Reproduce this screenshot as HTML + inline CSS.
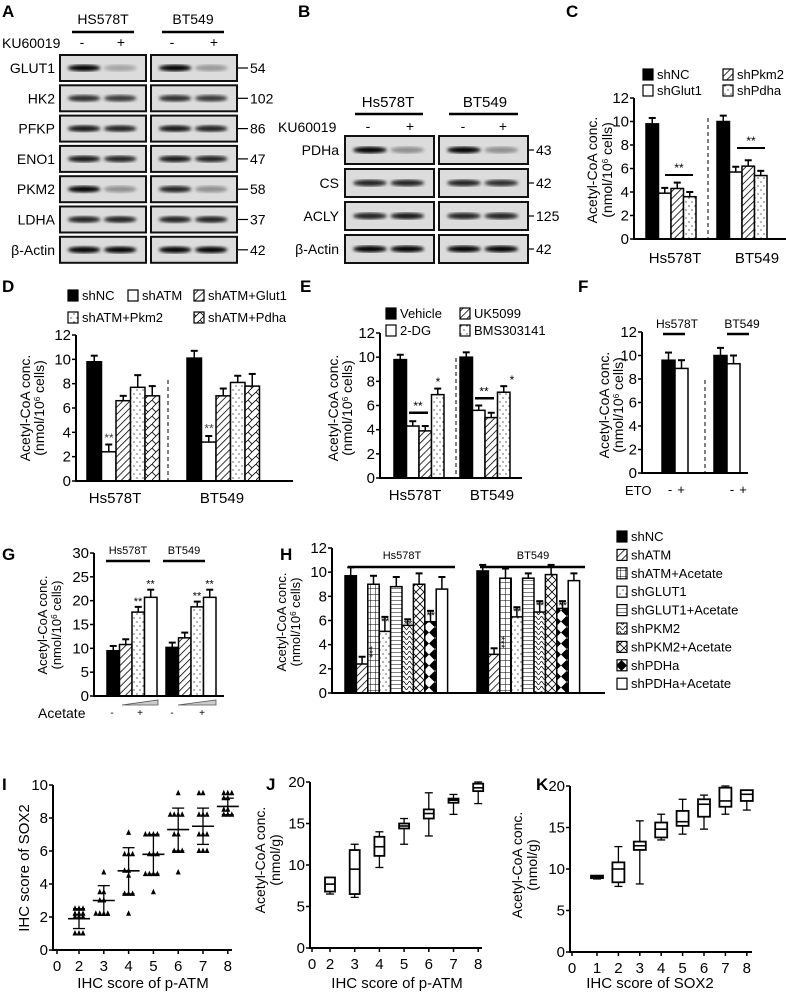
<!DOCTYPE html>
<html><head><meta charset="utf-8"><style>
body{margin:0;background:#fff}
svg{display:block;font-family:"Liberation Sans",sans-serif}
</style></head><body>
<svg id="fig" width="786" height="992" viewBox="0 0 786 992" xmlns="http://www.w3.org/2000/svg">
<defs>
<filter id="blur"><feGaussianBlur stdDeviation="1.6"/></filter>
<pattern id="p-hatch" width="5" height="5" patternUnits="userSpaceOnUse" patternTransform="rotate(45)"><rect width="5" height="5" fill="#fff"/><line x1="0" y1="0" x2="0" y2="5" stroke="#000" stroke-width="1.6"/></pattern>
<pattern id="p-dots" width="6" height="8" patternUnits="userSpaceOnUse"><rect width="6" height="8" fill="#fff"/><circle cx="2" cy="2" r="0.6" fill="#000"/><circle cx="5" cy="6" r="0.6" fill="#000"/></pattern>
<pattern id="p-zig" width="8" height="8" patternUnits="userSpaceOnUse"><rect width="8" height="8" fill="#fff"/><path d="M0 8L8 0M0 0L4 4" stroke="#000" stroke-width="0.8"/></pattern>
<pattern id="p-vgrid" width="5" height="6" patternUnits="userSpaceOnUse"><rect width="5" height="6" fill="#fff"/><path d="M0 0V6M0 0H5" stroke="#000" stroke-width="1"/></pattern>
<pattern id="p-hlines" width="5" height="4" patternUnits="userSpaceOnUse"><rect width="5" height="4" fill="#fff"/><path d="M0 0H5" stroke="#000" stroke-width="1"/></pattern>
<pattern id="p-wave" width="6" height="5" patternUnits="userSpaceOnUse"><rect width="6" height="5" fill="#fff"/><path d="M0 3Q1.5 0 3 3T6 3" fill="none" stroke="#000" stroke-width="0.8"/></pattern>
<pattern id="p-cross" width="8" height="8" patternUnits="userSpaceOnUse"><rect width="8" height="8" fill="#fff"/><path d="M0 0L8 8M8 0L0 8" stroke="#000" stroke-width="0.8"/></pattern>
<pattern id="p-diam" width="11" height="11" patternUnits="userSpaceOnUse"><rect width="11" height="11" fill="#fff"/><path d="M5.5 0L11 5.5L5.5 11L0 5.5Z" fill="#000"/></pattern>
</defs>
<g id="root"></g>
</svg>
<script>
// ---------- DATA ----------
const blotRowsA = ["GLUT1","HK2","PFKP","ENO1","PKM2","LDHA","β-Actin"];
const blotMwA = ["54","102","86","47","58","37","42"];
const blotIntA = [[1,0.25,1,0.3],[0.8,0.75,0.8,0.75],[0.9,0.85,0.9,0.85],[0.9,0.85,0.9,0.85],[1,0.35,0.85,0.35],[0.85,0.85,0.85,0.85],[1,1,1,1]];
const blotRowsB = ["PDHa","CS","ACLY","β-Actin"];
const blotMwB = ["43","42","125","42"];
const blotIntB = [[1,0.35,1,0.35],[0.85,0.85,0.85,0.8],[0.85,0.9,0.85,0.85],[1,1,1,1]];

const cLabels = ["shNC","shGlut1","shPkm2","shPdha"];
const cHs = [9.8,3.9,4.3,3.6];
const cBt = [10.0,5.7,6.2,5.4];
const cErr = [0.5,0.45,0.5,0.4];

const dLabels = ["shNC","shATM","shATM+Glut1","shATM+Pkm2","shATM+Pdha"];
const dHs = [9.8,2.4,6.6,7.7,7.0];
const dBt = [10.1,3.2,7.0,8.1,7.8];
const dErrHs = [0.5,0.6,0.4,1.0,0.8];
const dErrBt = [0.6,0.5,0.6,0.55,1.0];

const eLabels = ["Vehicle","2-DG","UK5099","BMS303141"];
const eHs = [9.8,4.3,3.9,6.9];
const eBt = [10.0,5.6,5.0,7.1];
const eErr = [0.4,0.4,0.4,0.5];

const fHs = [9.6,8.9];
const fBt = [10.0,9.3];
const fErr = [0.65,0.7];

const gHs = [9.5,10.8,17.6,20.7];
const gBt = [10.2,12.2,18.7,20.7];
const gErr = [1.0,1.1,1.1,1.6];

const hLabels = ["shNC","shATM","shATM+Acetate","shGLUT1","shGLUT1+Acetate","shPKM2","shPKM2+Acetate","shPDHa","shPDHa+Acetate"];
const hHs = [9.7,2.4,9.0,5.1,8.8,5.6,9.0,5.9,8.6];
const hBt = [10.1,3.2,9.5,6.3,9.5,6.7,9.8,7.0,9.3];
const hErrHs = [0.7,0.6,0.7,1.2,0.8,0.5,0.9,0.9,1.0];
const hErrBt = [0.5,0.5,0.8,0.8,0.4,0.9,0.8,0.6,0.6];

const iCats = [2,3,4,5,6,7,8];
const iMeans = [1.9,3.0,4.8,5.8,7.3,7.5,8.7];
const iSd = [0.6,0.9,1.4,1.2,1.3,1.1,0.5];
const iPts = [[1,1,1,2,2,2,2.2,2.2,2.2,2.5,2.5,2.5],[2.2,2.2,2.2,2.2,3,3,3.5,3.5,4.7],[2.2,3.4,3.4,3.4,4.5,4.8,4.8,5.8,5.8,5.8,7.1],[3.5,4.6,4.6,4.6,4.6,5.8,5.8,5.8,7,7,7,7],[4.7,6,6,6,7,7,8.2,8.2,8.2,8.2,9.5],[6,6,6,7,7,7,8.2,8.2,8.2,9.5,9.5],[8.2,8.2,8.2,8.5,8.5,9.2,9.2,9.5,9.5,9.5]];

const jCats = [2,3,4,5,6,7,8];
const jMin = [6.5,6.1,9.7,12.5,13.5,16.1,17.4];
const jQ1 = [6.8,6.5,11.1,14.4,15.6,17.5,18.9];
const jMed = [7.7,9.5,12.2,14.7,16.2,17.8,19.3];
const jQ3 = [8.5,11.8,13.4,15.0,16.7,18.0,19.8];
const jMax = [8.5,12.5,14.0,15.6,18.7,18.5,20.0];

const kCats = [1,2,3,4,5,6,7,8];
const kMin = [8.8,7.9,8.2,13.5,14.2,14.8,16.6,17.1];
const kQ1 = [8.9,8.4,12.3,13.8,15.2,16.3,17.5,18.2];
const kMed = [9.0,10.0,12.8,14.8,15.7,17.8,18.2,19.0];
const kQ3 = [9.2,10.8,13.3,15.6,17.0,18.4,19.8,19.5];
const kMax = [9.2,12.7,15.8,16.6,18.4,18.9,20.0,19.5];

// ---------- HELPERS ----------
const NS = "http://www.w3.org/2000/svg";
const root = document.getElementById("root");
function mk(tag, attrs, parent){
  const e = document.createElementNS(NS, tag);
  for (const k in attrs) e.setAttribute(k, attrs[k]);
  (parent||root).appendChild(e);
  return e;
}
function txt(x,y,s,size,anchor,parent,extra){
  const t = mk("text", Object.assign({x:x,y:y,"font-size":size||13,"text-anchor":anchor||"start",fill:"#000"}, extra||{}), parent);
  t.textContent = s;
  return t;
}
function grp(name){
  const g = mk("g",{});
  
  
  return g;
}
function panelLabel(ch,x,y){
  const t = txt(x,y,ch,17,"start",root,{"font-weight":"bold"});
  
  
}
const SUP = "(nmol/10<tspan baseline-shift='super' font-size='8'>6</tspan> cells)";
function yTitle(g,xs,yc,lines,size){
  lines.forEach((l,i)=>{
    const x = xs[i];
    const t = txt(x,yc,"",size,"middle",g,{transform:`rotate(-90 ${x} ${yc})`});
    t.innerHTML = l;
    
    
  });
}
function yAxis(g,ax,y0,yTop,vmax,ticks,fs){
  const sc = v => y0 - (y0-yTop)*v/vmax;
  mk("line",{x1:ax,y1:y0+1,x2:ax,y2:yTop,stroke:"#000","stroke-width":2},g);
  ticks.forEach(t=>{
    mk("line",{x1:ax-4,y1:sc(t),x2:ax,y2:sc(t),stroke:"#000","stroke-width":1.5},g);
    const l = txt(ax-5,sc(t)+5,String(t),fs||15,"end",g);
    
    
  });
  return sc;
}
function bars(g,sc,y0,x0,w,vals,errs,fills,name){
  vals.forEach((v,i)=>{
    const x = x0+i*w, y = sc(v);
    const e = errs ? (Array.isArray(errs)?errs[i]:errs) : 0;
    if (e){
      mk("line",{x1:x+w/2,y1:y,x2:x+w/2,y2:sc(v+e),stroke:"#000","stroke-width":1.5},g);
      mk("line",{x1:x+w/2-3.5,y1:sc(v+e),x2:x+w/2+3.5,y2:sc(v+e),stroke:"#000","stroke-width":2},g);
    }
    const r = mk("rect",{x:x,y:y,width:w,height:y0-y,fill:fills[i],stroke:"#000","stroke-width":1.5},g);
    
    
  });
}
function legendItem(g,x,y,fill,label,fs){
  mk("rect",{x:x,y:y-10,width:10,height:11,fill:fill,stroke:"#000","stroke-width":1.2},g);
  const t = txt(x+14,y,label,fs||13,"start",g);
  
  
}
function dashed(g,x,y1,y2){ mk("line",{x1:x,y1:y1,x2:x,y2:y2,stroke:"#000","stroke-width":1,"stroke-dasharray":"4,3"},g); }
function hline(g,x1,x2,y,w){ mk("line",{x1:x1,y1:y,x2:x2,y2:y,stroke:"#000","stroke-width":w||2.5},g); }

// ---------- BLOTS ----------
function blot(name,rows,mws,ints,top,pitch,boxH,lxr,b1,b2,bw,mwx){
  const g = grp(name);
  rows.forEach((r,i)=>{
    const y = top+i*pitch;
    const l = txt(lxr,y+boxH/2+5,r,14,"end",g);
    
    
    [b1,b2].forEach((bx,j)=>{
      mk("rect",{x:bx,y:y,width:bw,height:boxH,fill:"#dcdcdc",stroke:"#111","stroke-width":2},g);
      for(let k=0;k<2;k++){
        const a = ints[i][j*2+k];
        mk("ellipse",{cx:bx+bw*(k?0.7:0.28),cy:y+boxH/2,rx:bw*0.19,ry:3.2,fill:"#000",opacity:a,filter:"url(#blur)"},g);
      }
    });
    hline(g,b2+bw+1,mwx-2,y+boxH/2,1.2);
    const m = txt(mwx,y+boxH/2+5,mws[i],14,"start",g);
    
    
  });
  return g;
}
panelLabel("A",2,17);
const gA = blot("blot-panel-a",blotRowsA,blotMwA,blotIntA,55,30.3,26,55,60,151,86,250);
txt(103,24,"HS578T",14,"middle",gA); hline(gA,72,134,32,2.5);
txt(193,24,"BT549",14,"middle",gA); hline(gA,162,224,32,2.5);
txt(2,48,"KU60019",14,"start",gA);
[82,121,172,214].forEach((x,i)=>txt(x,47,i%2?"+":"-",14,"middle",gA));

panelLabel("B",298,17);
const gB = blot("blot-panel-b",blotRowsB,blotMwB,blotIntB,136,33,28,339,345,439,89,536);
txt(388,107,"Hs578T",15,"middle",gB); hline(gB,355,423,114,2.5);
txt(485,107,"BT549",15,"middle",gB); hline(gB,449,518,114,2.5);
txt(278,132,"KU60019",14,"start",gB);
[368,410,463,503].forEach((x,i)=>txt(x,131,i%2?"+":"-",14,"middle",gB));

// ---------- C ----------
panelLabel("C",566,17);
{
  const g = grp("chart-c");
  const fills = ["#000","#fff","url(#p-hatch)","url(#p-dots)"];
  legendItem(g,643,79,fills[0],cLabels[0]); legendItem(g,723,79,fills[2],cLabels[2]);
  legendItem(g,643,95,fills[1],cLabels[1]); legendItem(g,723,95,fills[3],cLabels[3]);
  const y0=239, ax=634;
  const sc = yAxis(g,ax,y0,98,12,[0,2,4,6,8,10,12]);
  bars(g,sc,y0,646,12.5,cHs,cErr,fills,"c-hs578t");
  bars(g,sc,y0,717,12.5,cBt,cErr,fills,"c-bt549");
  hline(g,ax,786,y0,2);
  dashed(g,708,118,y0);
  hline(g,665,693,175,2); txt(679,172,"**",12,"middle",g);
  hline(g,737,765,148,2); txt(751,145,"**",12,"middle",g);
  txt(675,263,"Hs578T",15,"middle",g); txt(757,263,"BT549",15,"middle",g);
  yTitle(g,[597,612],170,["Acetyl-CoA conc.",SUP],14);
}

// ---------- D ----------
panelLabel("D",2,292);
{
  const g = grp("chart-d");
  const fills = ["#000","#fff","url(#p-hatch)","url(#p-dots)","url(#p-zig)"];
  legendItem(g,68,300,fills[0],dLabels[0]); legendItem(g,128,300,fills[1],dLabels[1]); legendItem(g,194,300,fills[2],dLabels[2]);
  legendItem(g,68,322,fills[3],dLabels[3]); legendItem(g,194,322,fills[4],dLabels[4]);
  const y0=481, ax=76;
  const sc = yAxis(g,ax,y0,335,12,[0,2,4,6,8,10,12]);
  bars(g,sc,y0,87,14.5,dHs,dErrHs,fills,"d-hs578t");
  bars(g,sc,y0,187,14.5,dBt,dErrBt,fills,"d-bt549");
  hline(g,ax,293,y0,2);
  dashed(g,168,380,y0);
  txt(109,sc(3.2),"**",12,"middle",g,{fill:"#444"}); txt(209,sc(4.0),"**",12,"middle",g,{fill:"#444"});
  txt(115,503,"Hs578T",15,"middle",g); txt(222,503,"BT549",15,"middle",g);
  yTitle(g,[30,44],408,["Acetyl-CoA conc.",SUP],14);
}

// ---------- E ----------
panelLabel("E",300,292);
{
  const g = grp("chart-e");
  const fills = ["#000","#fff","url(#p-hatch)","url(#p-dots)"];
  legendItem(g,386,318,fills[0],eLabels[0]); legendItem(g,460,318,fills[2],eLabels[2]);
  legendItem(g,386,335,fills[1],eLabels[1]); legendItem(g,460,335,fills[3],eLabels[3]);
  const y0=478, ax=380;
  const sc = yAxis(g,ax,y0,333,12,[0,2,4,6,8,10,12]);
  bars(g,sc,y0,394,12.5,eHs,eErr,fills,"e-hs578t");
  bars(g,sc,y0,460,12.5,eBt,eErr,fills,"e-bt549");
  hline(g,ax,522,y0,2);
  dashed(g,456,358,y0);
  hline(g,409,428,sc(5.4),2.5); txt(418,sc(5.4)-3,"**",12,"middle",g);
  hline(g,475,494,sc(6.6),2.5); txt(484,sc(6.6)-3,"**",12,"middle",g);
  txt(438,sc(7.6),"*",12,"middle",g); txt(512,sc(7.8),"*",12,"middle",g);
  txt(415,500,"Hs578T",15,"middle",g); txt(492,500,"BT549",15,"middle",g);
  yTitle(g,[338,352],408,["Acetyl-CoA conc.",SUP],14);
}

// ---------- F ----------
panelLabel("F",578,292);
{
  const g = grp("chart-f");
  const fills = ["#000","#fff"];
  const y0=473, ax=642;
  const sc = yAxis(g,ax,y0,332,12,[0,2,4,6,8,10,12]);
  bars(g,sc,y0,662,13,fHs,fErr,fills,"f-hs578t");
  bars(g,sc,y0,714,13,fBt,fErr,fills,"f-bt549");
  hline(g,ax,748,y0,2);
  dashed(g,705,380,y0);
  txt(677,328,"Hs578T",12,"middle",g); hline(g,663,685,334,2.5);
  txt(742,328,"BT549",12,"middle",g); hline(g,727,749,334,2.5);
  txt(625,495,"ETO",13,"start",g);
  [670,681,732,743].forEach((x,i)=>txt(x,494,i%2?"+":"-",13,"middle",g));
  yTitle(g,[609,623],405,["Acetyl-CoA conc.",SUP],14);
}

// ---------- G ----------
panelLabel("G",2,560);
{
  const g = grp("chart-g");
  const fills = ["#000","url(#p-hatch)","url(#p-dots)","#fff"];
  const y0=696, ax=94;
  const sc = yAxis(g,ax,y0,553,30,[0,5,10,15,20,25,30]);
  bars(g,sc,y0,107,12.5,gHs,gErr,fills,"g-hs578t");
  bars(g,sc,y0,166,12.5,gBt,gErr,fills,"g-bt549");
  hline(g,ax,224,y0,2);
  [2,3].forEach(i=>{ txt(107+i*12.5+6,sc(gHs[i]+gErr[i])-2,"**",11,"middle",g); txt(166+i*12.5+6,sc(gBt[i]+gErr[i])-2,"**",11,"middle",g); });
  txt(128,554,"Hs578T",11,"middle",g); hline(g,106,150,561,2.5);
  txt(184,554,"BT549",11,"middle",g); hline(g,163,205,561,2.5);
  mk("polygon",{points:"122,705 158,700 158,705",fill:"#ccc",stroke:"#555","stroke-width":0.8},g);
  mk("polygon",{points:"178,705 216,700 216,705",fill:"#ccc",stroke:"#555","stroke-width":0.8},g);
  txt(38,718,"Acetate",14,"start",g);
  [112,140,172,202].forEach((x,i)=>txt(x,716,i%2?"+":"-",10,"middle",g));
  yTitle(g,[47,61],625,["Acetyl-CoA conc.",SUP],13);
}

// ---------- H ----------
panelLabel("H",280,560);
{
  const g = grp("chart-h");
  const fills = ["#000","url(#p-hatch)","url(#p-vgrid)","url(#p-dots)","url(#p-hlines)","url(#p-wave)","url(#p-cross)","url(#p-diam)","#fff"];
  const y0=693, ax=332;
  const sc = yAxis(g,ax,y0,548,12,[0,2,4,6,8,10,12]);
  bars(g,sc,y0,345,11.4,hHs,hErrHs,fills,"h-hs578t");
  bars(g,sc,y0,477,11.4,hBt,hErrBt,fills,"h-bt549");
  hline(g,ax,605,y0,2);
  txt(402,559,"Hs578T",11,"middle",g); hline(g,348,455,567,2.5);
  txt(533,559,"BT549",11,"middle",g); hline(g,480,585,567,2.5);
  [3,5,7].forEach(i=>{ txt(345+i*11.4+6,sc(hHs[i]+hErrHs[i])+8,"**",11,"middle",g); txt(477+i*11.4+6,sc(hBt[i]+hErrBt[i])+8,"**",11,"middle",g); });
  txt(366,sc(3.4),"***",10,"middle",g,{transform:`rotate(90 366 ${sc(3.4)})`});
  txt(498,sc(4.2),"***",10,"middle",g,{transform:`rotate(90 498 ${sc(4.2)})`});
  hLabels.forEach((l,i)=>legendItem(g,617,541+i*18.4,fills[i],l,13));
  yTitle(g,[286,300],622,["Acetyl-CoA conc.",SUP],13);
}

// x-axis helper for compressed first interval (0 -> first category)
function xAxis(g,ax,y0,xs,vals,xEnd){
  hline(g,ax,xEnd,y0,2);
  vals.forEach(v=>{
    mk("line",{x1:xs(v),y1:y0,x2:xs(v),y2:y0+4,stroke:"#000","stroke-width":1.5},g);
    const l = txt(xs(v),y0+21,String(v),15,"middle",g);
    
    
  });
}

// ---------- I ----------
panelLabel("I",2,790);
{
  const g = grp("chart-i");
  const y0=950, ax=53;
  const sc = yAxis(g,ax,y0,785,10,[0,2,4,6,8,10]);
  const xs = v => v===0 ? 57 : 79 + (v-2)*24.8;
  xAxis(g,ax,y0,xs,[0,2,3,4,5,6,7,8],232);
  iCats.forEach((c,i)=>{
    const x = xs(c);
    const seen = {};
    iPts[i].forEach((p)=>{
      const n = seen[p] = (seen[p]||0)+1;
      const dx = [0,-4,4,-8,8][(n-1)%5];
      const yy = sc(p);
      const t = mk("polygon",{points:`${x+dx},${yy-3.5} ${x+dx-2.5},${yy+2} ${x+dx+2.5},${yy+2}`,fill:"#000"},g);
      
      
    });
    mk("line",{x1:x,y1:sc(iMeans[i]-iSd[i]),x2:x,y2:sc(iMeans[i]+iSd[i]),stroke:"#000","stroke-width":1.3},g);
    hline(g,x-11,x+11,sc(iMeans[i]),1.6);
    hline(g,x-6,x+6,sc(iMeans[i]+iSd[i]),1.3);
    hline(g,x-6,x+6,sc(iMeans[i]-iSd[i]),1.3);
  });
  const xt = txt(143,988,"IHC score of p-ATM",15,"middle",g);  
  yTitle(g,[29],868,["IHC score of SOX2"],15);
}

// ---------- box plot helper ----------
function boxPlot(g,xs,sc,cats,mn,q1,md,q3,mx,name,hw){
  cats.forEach((c,i)=>{
    const x = xs(c), w=hw;
    mk("line",{x1:x,y1:sc(mn[i]),x2:x,y2:sc(mx[i]),stroke:"#000","stroke-width":1.3},g);
    hline(g,x-4,x+4,sc(mn[i]),1.3); hline(g,x-4,x+4,sc(mx[i]),1.3);
    const r = mk("rect",{x:x-w,y:sc(q3[i]),width:2*w,height:Math.max(1,sc(q1[i])-sc(q3[i])),fill:"#fff",stroke:"#000","stroke-width":1.8},g);
    
    
    hline(g,x-w,x+w,sc(md[i]),1.6);
  });
}

// ---------- J ----------
panelLabel("J",266,790);
{
  const g = grp("chart-j");
  const y0=948, ax=310;
  const sc = yAxis(g,ax,y0,782,20,[0,5,10,15,20]);
  const xs = v => v===0 ? 312 : 330 + (v-2)*24.7;
  xAxis(g,ax,y0,xs,[0,2,3,4,5,6,7,8],482);
  boxPlot(g,xs,sc,jCats,jMin,jQ1,jMed,jQ3,jMax,"j",5);
  const xt = txt(397,988,"IHC score of p-ATM",15,"middle",g);  
  yTitle(g,[265,280],860,["Acetyl-CoA conc.","(nmol/g)"],14);
}

// ---------- K ----------
panelLabel("K",536,790);
{
  const g = grp("chart-k");
  const y0=952, ax=570;
  const sc = yAxis(g,ax,y0,786,20,[0,5,10,15,20]);
  const xs = v => v===0 ? 572 : 597 + (v-1)*21.4;
  xAxis(g,ax,y0,xs,[0,1,2,3,4,5,6,7,8],752);
  boxPlot(g,xs,sc,kCats,kMin,kQ1,kMed,kQ3,kMax,"k",6);
  const xt = txt(650,988,"IHC score of SOX2",15,"middle",g);  
  yTitle(g,[522,537],865,["Acetyl-CoA conc.","(nmol/g)"],14);
}
</script>
</body></html>
